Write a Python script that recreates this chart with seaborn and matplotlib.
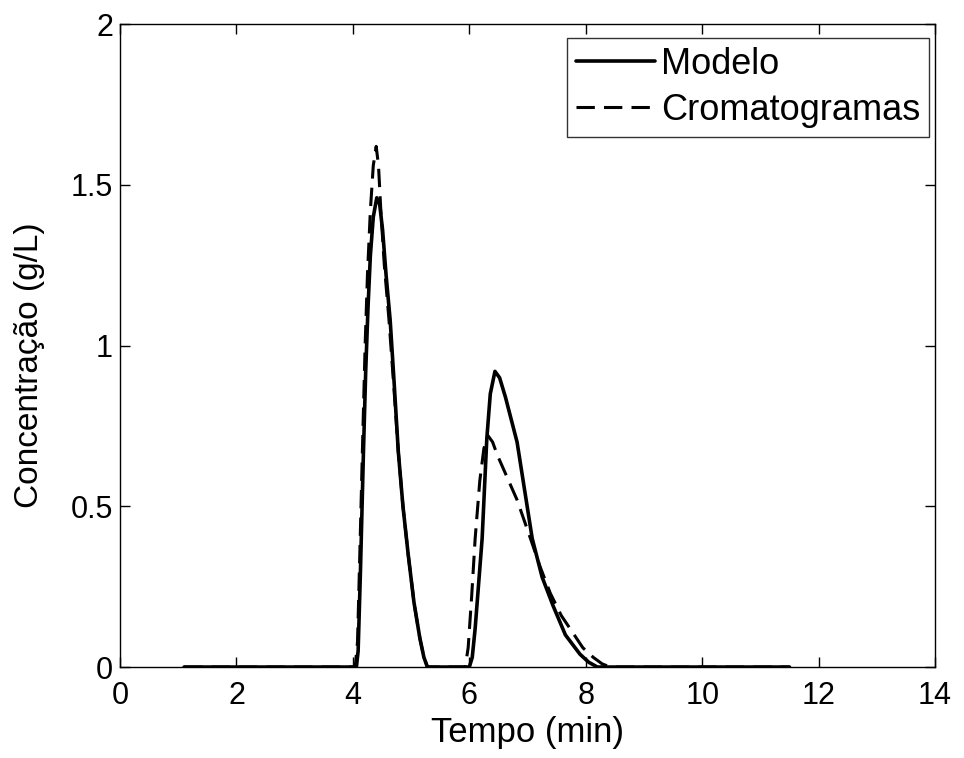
import numpy as np
import pandas as pd
import seaborn as sns
import matplotlib.pyplot as plt
from matplotlib.ticker import FuncFormatter

# data
modelo_t = [1.1, 4.00, 4.06, 4.09, 4.13, 4.18, 4.22, 4.26, 4.30, 4.35, 4.41, 4.46, 4.51, 4.57, 4.64,
            4.71, 4.78, 4.86, 4.95, 5.05, 5.15, 5.22, 5.28, 5.90, 6.00, 6.05, 6.10, 6.16, 6.22,
            6.30, 6.36, 6.44, 6.52, 6.62, 6.72, 6.82, 6.95, 7.08, 7.25, 7.44, 7.65, 7.90, 8.05,
            8.20, 11.5]
modelo_c = [0.0, 0.0, 0.0, 0.05, 0.30, 0.66, 0.92, 1.12, 1.28, 1.40, 1.46, 1.44, 1.36, 1.22, 1.08,
            0.88, 0.67, 0.50, 0.35, 0.20, 0.09, 0.03, 0.0, 0.0, 0.0, 0.03, 0.12, 0.26, 0.40,
            0.71, 0.85, 0.92, 0.90, 0.84, 0.77, 0.70, 0.55, 0.40, 0.28, 0.19, 0.10, 0.04, 0.015,
            0.0, 0.0]

cromato_t = [1.1, 4.00, 4.04, 4.08, 4.12, 4.17, 4.21, 4.25, 4.30, 4.35, 4.40, 4.44, 4.48, 4.54, 4.62,
             4.70, 4.78, 4.86, 4.95, 5.05, 5.15, 5.22, 5.28, 5.88, 5.93, 5.98, 6.04, 6.10, 6.18,
             6.25, 6.32, 6.40, 6.48, 6.65, 6.82, 7.05, 7.22, 7.39, 7.58, 7.78, 7.95, 8.13, 8.28,
             8.42, 11.5]
cromato_c = [0.0, 0.0, 0.0, 0.08, 0.36, 0.72, 1.00, 1.22, 1.42, 1.56, 1.62, 1.56, 1.42, 1.25, 1.08,
             0.88, 0.67, 0.50, 0.35, 0.20, 0.09, 0.03, 0.0, 0.0, 0.0, 0.06, 0.22, 0.40, 0.58,
             0.68, 0.72, 0.70, 0.66, 0.59, 0.52, 0.40, 0.31, 0.23, 0.16, 0.106, 0.06, 0.03, 0.01,
             0.0, 0.0]

df_mod = pd.DataFrame({"t": modelo_t, "c": modelo_c})
df_cro = pd.DataFrame({"t": cromato_t, "c": cromato_c})

sns.set_style("ticks")
plt.rcParams["font.family"] = ["Liberation Sans", "DejaVu Sans"]
plt.rcParams.update({"text.color": "black", "axes.labelcolor": "black",
                     "xtick.color": "black", "ytick.color": "black"})

fig = plt.figure(figsize=(9.64, 7.58), dpi=100)
ax = fig.add_axes([0.1245, 0.12, 0.8455, 0.848])

sns.lineplot(data=df_mod, x="t", y="c", color="black", lw=2.6, ax=ax,
             label="Modelo", sort=False)
sns.lineplot(data=df_cro, x="t", y="c", color="black", lw=2.2, ax=ax,
             label="Cromatogramas", sort=False, linestyle=(0, (6, 3)))

ax.set_xlim(0, 14)
ax.set_ylim(0, 2)
ax.set_xticks(np.arange(0, 15, 2))
ax.set_yticks([0, 0.5, 1, 1.5, 2])
ax.yaxis.set_major_formatter(FuncFormatter(lambda v, p: f"{v:g}"))
ax.tick_params(direction="in", length=7, width=1, top=True, right=True,
               labelsize=22, colors="black")
ax.tick_params(axis="x", pad=10)
ax.tick_params(axis="y", pad=5)
for s in ax.spines.values():
    s.set_linewidth(1)
    s.set_color("black")

ax.set_xlabel("Tempo (min)", fontsize=25, labelpad=4, color="black")
ax.set_ylabel("Concentração (g/L)", fontsize=24, color="black")
ax.yaxis.set_label_coords(-0.092, 0.47)

leg = ax.legend(loc="upper right", bbox_to_anchor=(929 / 964, 1 - 38 / 758),
                bbox_transform=fig.transFigure, fontsize=26, frameon=True,
                fancybox=False, edgecolor="black", handlelength=2.2,
                handletextpad=0.15, borderaxespad=0, borderpad=0.25,
                labelspacing=0.3)
leg.get_frame().set_linewidth(1)
for txt in leg.get_texts():
    txt.set_color("black")

fig.savefig("out.png", dpi=100)
